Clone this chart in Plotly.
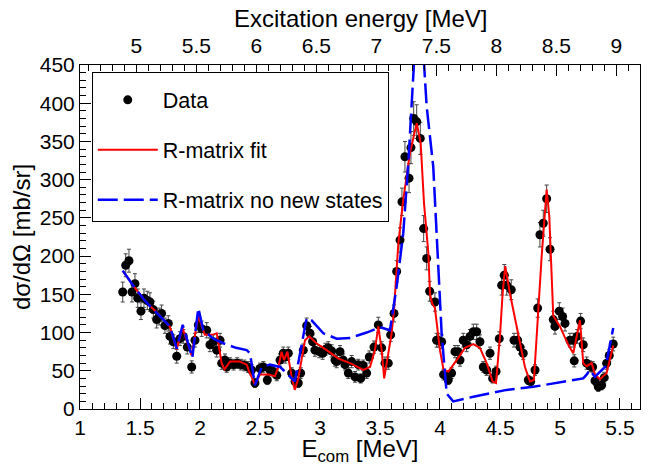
import plotly.graph_objects as go

Q_VALUE = 3.53  # Ex = E_com + Q

e_com = [1.356, 1.381, 1.408, 1.433, 1.458, 1.481, 1.508, 1.533, 1.561, 1.583,
         1.611, 1.639, 1.660, 1.680, 1.708, 1.736, 1.750, 1.778, 1.806, 1.833,
         1.861, 1.894, 1.931, 1.958, 1.986, 2.014, 2.056, 2.083, 2.111, 2.139,
         2.167, 2.181, 2.208, 2.222, 2.250, 2.280, 2.310, 2.340, 2.370, 2.400,
         2.430, 2.458, 2.500, 2.528, 2.561, 2.583, 2.611, 2.640, 2.667, 2.694,
         2.710, 2.736, 2.764, 2.792, 2.819, 2.839, 2.861, 2.889, 2.917, 2.939,
         2.958, 2.994, 3.022, 3.045, 3.069, 3.097, 3.125, 3.139, 3.167, 3.194,
         3.208, 3.236, 3.264, 3.292, 3.319, 3.339, 3.360, 3.389, 3.411, 3.450,
         3.486, 3.514, 3.542, 3.569, 3.589, 3.617, 3.639, 3.667, 3.683, 3.708,
         3.742, 3.758, 3.781, 3.806, 3.836, 3.864, 3.889, 3.914, 3.958, 3.972,
         3.986, 4.014, 4.030, 4.056, 4.069, 4.097, 4.125, 4.150, 4.167, 4.194,
         4.222, 4.250, 4.278, 4.306, 4.333, 4.361, 4.389, 4.417, 4.439, 4.467,
         4.494, 4.514, 4.536, 4.556, 4.594, 4.617, 4.647, 4.667, 4.694, 4.736,
         4.756, 4.792, 4.814, 4.833, 4.861, 4.889, 4.917, 4.944, 4.958, 4.994,
         5.022, 5.042, 5.083, 5.111, 5.119, 5.144, 5.172, 5.194, 5.222, 5.250,
         5.272, 5.292, 5.319, 5.347, 5.369, 5.389, 5.411, 5.444]

xs = [153, 188, 194, 153, 164, 145, 128, 145, 142, 140,
      130, 117, 121, 125, 109, 112, 95, 88, 69, 92,
      95, 81, 55, 90, 110, 105, 103, 84, 88, 77,
      90, 60, 64, 55, 60, 58, 60, 58, 57, 55,
      51, 34, 53, 55, 38, 51, 49, 44, 64, 73,
      68, 73, 47, 36, 34, 47, 77, 109, 99, 88,
      77, 75, 73, 78, 80, 76, 64, 62, 75, 64,
      58, 47, 62, 42, 58, 40, 57, 47, 68, 81,
      110, 80, 60, 60, 97, 125, 180, 221, 271, 330,
      302, 342, 380, 376, 354, 236, 197, 154, 140, 90,
      90, 88, 45, 42, 38, 47, 75, 75, 64, 90,
      84, 95, 101, 101, 88, 55, 51, 73, 40, 49,
      92, 162, 175, 162, 156, 90, 90, 81, 73, 38,
      36, 51, 132, 228, 243, 275, 209, 117, 108, 128,
      121, 112, 90, 90, 63, 95, 115, 84, 60, 56,
      55, 37, 29, 31, 41, 60, 70, 85]

xs_err = [13, 15, 15, 13, 13, 12, 11, 12, 12, 12,
          11, 11, 11, 11, 10, 10, 10, 9, 9, 9,
          9, 9, 8, 9, 10, 10, 10, 9, 9, 9,
          9, 8, 8, 7, 7, 7, 7, 7, 7, 7,
          7, 6, 7, 7, 6, 7, 7, 7, 8, 8,
          8, 8, 7, 6, 6, 7, 8, 10, 9, 9,
          8, 8, 8, 8, 8, 8, 8, 8, 8, 8,
          7, 7, 8, 7, 7, 6, 7, 7, 8, 8,
          10, 8, 8, 8, 9, 11, 14, 16, 18, 20,
          19, 21, 22, 22, 21, 17, 15, 13, 12, 9,
          9, 9, 7, 7, 6, 7, 8, 8, 8, 9,
          9, 9, 10, 10, 9, 7, 7, 8, 6, 7,
          9, 13, 14, 13, 13, 9, 9, 9, 8, 6,
          6, 7, 12, 16, 17, 18, 15, 11, 10, 11,
          11, 10, 9, 9, 8, 9, 10, 9, 8, 7,
          7, 6, 6, 6, 7, 8, 8, 9]

fit_e = [1.36, 1.45, 1.55, 1.65, 1.75, 1.805, 1.855, 1.93, 1.985, 2.04,
         2.10, 2.14, 2.18, 2.205, 2.25, 2.33, 2.39, 2.41, 2.458, 2.50,
         2.57, 2.625, 2.653, 2.68, 2.70, 2.728, 2.764, 2.79, 2.819, 2.875,
         2.91, 2.97, 3.056, 3.153, 3.25, 3.361, 3.417, 3.458, 3.486, 3.514,
         3.535, 3.569, 3.597, 3.617, 3.653, 3.694, 3.75, 3.806, 3.839, 3.867,
         3.903, 3.917, 3.935, 3.958, 4.0, 4.03, 4.07, 4.139, 4.208, 4.278,
         4.333, 4.389, 4.439, 4.467, 4.5, 4.522, 4.544, 4.583, 4.639, 4.708,
         4.75, 4.783, 4.811, 4.847, 4.889, 4.911, 4.944, 5.0, 5.069, 5.111,
         5.167, 5.194, 5.222, 5.264, 5.292, 5.333, 5.389, 5.43, 5.444]
fit_xs = [180, 160, 140, 125, 107, 78, 106, 70, 122, 97,
          97, 99, 60, 52, 62, 62, 58, 49, 32, 45,
          45, 43, 55, 75, 64, 75, 42, 25, 40, 90,
          95, 86, 77, 66, 60, 51, 55, 77, 108, 77,
          40, 70, 99, 130, 217, 274, 335, 374, 348, 269,
          204, 150, 138, 132, 77, 51, 49, 64, 80, 85,
          80, 60, 36, 34, 95, 151, 187, 151, 108, 55,
          36, 38, 108, 199, 287, 252, 122, 108, 84, 73,
          116, 60, 56, 60, 45, 39, 47, 72, 83]

nonew_e = [1.356, 1.45, 1.55, 1.65, 1.75, 1.806, 1.856, 1.936, 1.986, 2.028,
           2.111, 2.194, 2.30, 2.389, 2.417, 2.458, 2.514, 2.583, 2.667, 2.694,
           2.79, 2.889, 2.93, 3.028, 3.139, 3.25, 3.389, 3.5, 3.583, 3.639,
           3.694, 3.736, 3.764, 3.80, 3.83, 3.86, 3.889, 3.944, 3.986, 4.014,
           4.056, 4.11, 4.278, 4.556, 4.778, 4.972, 5.194, 5.222, 5.25, 5.29,
           5.375, 5.389, 5.444]
nonew_xs = [181, 160, 140, 124, 108, 79, 110, 67, 132, 103,
            92, 86, 80, 77, 73, 31, 55, 58, 55, 51,
            36, 119, 116, 99, 92, 93, 100, 107, 103, 160,
            230, 322, 404, 560, 580, 470, 396, 317, 186, 99,
            20, 10, 16, 25, 29, 34, 40, 45, 51, 42,
            55, 62, 106]

x_range = [1.0, 5.667]
y_range = [0, 450]

FONT = "Liberation Sans, Arial, Helvetica, sans-serif"

fig = go.Figure()

fig.add_trace(go.Scatter(
    x=e_com, y=xs, mode="markers", name="Data",
    marker=dict(color="black", size=9, symbol="circle"),
    error_y=dict(type="data", array=xs_err, visible=True,
                 color="#444444", thickness=1, width=2),
    legendgroup="a",
))
fig.add_trace(go.Scatter(
    x=fit_e, y=fit_xs, mode="lines", name="R-matrix fit",
    line=dict(color="#ff0000", width=2),
    legendgroup="b",
))
fig.add_trace(go.Scatter(
    x=nonew_e, y=nonew_xs, mode="lines", name="R-matrix no new states",
    line=dict(color="#0000ff", width=2.5, dash="20px,6px"),
    legendgroup="c",
))
# invisible trace to carry the top (excitation-energy) axis
fig.add_trace(go.Scatter(
    x=[x_range[0] + Q_VALUE, x_range[1] + Q_VALUE], y=[0, 0], xaxis="x2",
    mode="markers", marker=dict(opacity=0), showlegend=False, hoverinfo="skip",
))

tickfont = dict(family=FONT, size=21, color="black")
titlefont = dict(family=FONT, size=24, color="black")

# the page body has an 8px margin at the top-left, so the figure starts at (8, 8)
fig.update_layout(
    width=646, height=458,
    margin=dict(l=72, r=14, t=57, b=57),
    paper_bgcolor="white", plot_bgcolor="white",
    font=dict(family=FONT, color="black"),
    showlegend=True,
    legend=dict(
        x=0.021, y=0.98, xanchor="left", yanchor="top",
        bgcolor="white", bordercolor="black", borderwidth=1,
        font=dict(family=FONT, size=21.5, color="black"),
        tracegroupgap=19, itemwidth=60,
        title=dict(text=" ", font=dict(size=5)),
    ),
    xaxis=dict(
        range=x_range, tick0=1, dtick=0.5, ticks="inside", ticklen=11,
        tickcolor="black", showline=True, linecolor="black", linewidth=1,
        mirror=True, showgrid=False, zeroline=False, tickfont=tickfont,
        minor=dict(dtick=0.1, ticks="inside", ticklen=6, tickcolor="black"),
        title=dict(text="E<sub>com</sub> [MeV]", font=titlefont, standoff=14),
        automargin=False,
    ),
    xaxis2=dict(
        overlaying="x", side="top",
        range=[x_range[0] + Q_VALUE, x_range[1] + Q_VALUE],
        tick0=5, dtick=0.5, ticks="inside", ticklen=11, tickcolor="black",
        showline=True, linecolor="black", showgrid=False, zeroline=False,
        tickfont=tickfont, ticklabelstandoff=3,
        minor=dict(dtick=0.1, ticks="inside", ticklen=6, tickcolor="black"),
        automargin=False,
    ),
    yaxis=dict(
        range=y_range, tick0=0, dtick=50, ticks="inside", ticklen=11,
        tickcolor="black", showline=True, linecolor="black", linewidth=1,
        mirror=True, showgrid=False, zeroline=False, tickfont=tickfont,
        minor=dict(dtick=10, ticks="inside", ticklen=6, tickcolor="black"),
        title=dict(text="dσ/dΩ [mb/sr]", font=titlefont, standoff=5),
        automargin=False,
    ),
    annotations=[dict(
        text="Excitation energy [MeV]", xref="paper", yref="paper",
        x=0.5, y=1, xanchor="center", yanchor="middle", yshift=47,
        showarrow=False, font=titlefont,
    )],
)

fig.write_html("out.html")
